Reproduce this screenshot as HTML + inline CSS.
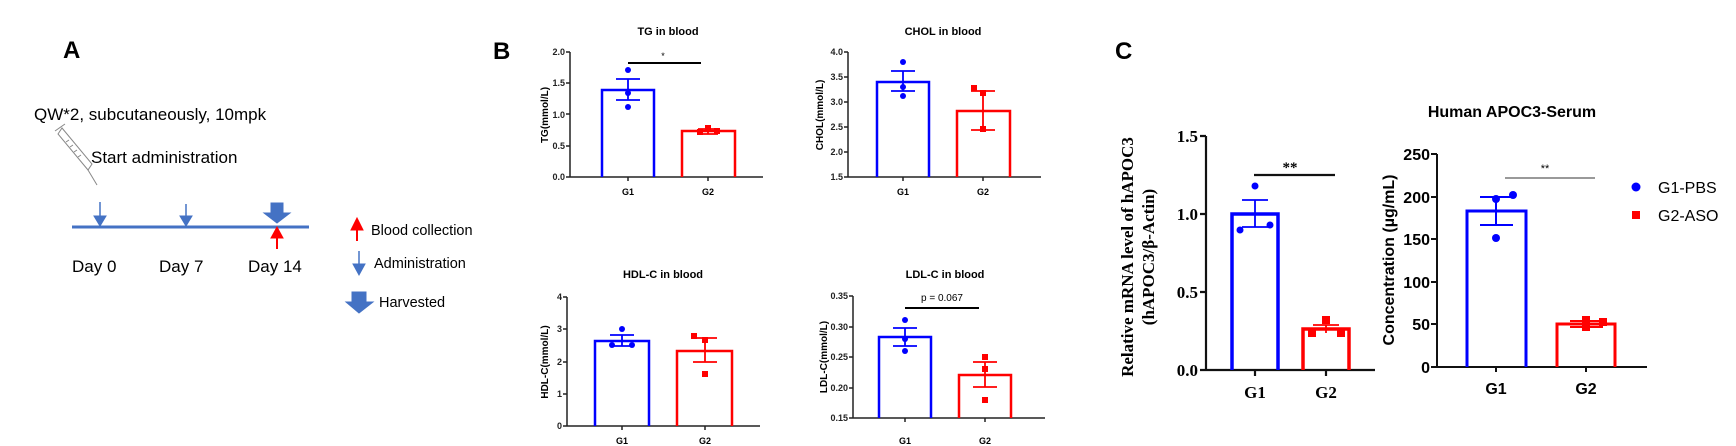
<!DOCTYPE html>
<html><head><meta charset="utf-8"><style>
html,body{margin:0;padding:0;background:#fff;}
svg{display:block;}
text{font-family:"Liberation Sans",Arial,sans-serif;}
.b{font-weight:bold;}
.s text, text.s{font-family:"Liberation Serif","Times New Roman",serif;font-weight:bold;}
</style></head><body>
<svg width="1736" height="446" viewBox="0 0 1736 446" xmlns="http://www.w3.org/2000/svg">
<rect width="1736" height="446" fill="#fff"/>
<!-- Panel A -->
<text x="63" y="58" font-size="24" class="b">A</text>
<text x="34" y="120" font-size="17">QW*2, subcutaneously, 10mpk</text>
<text x="91" y="163" font-size="17">Start administration</text>
<g stroke="#888" stroke-width="1" fill="none">
<path d="M58 134 L62 128 L92 164 L88 170 Z"/><path d="M55 131 L65 124"/><path d="M88 170 L97 185"/><path d="M66 142l3 -2M70 147l3 -2M74 152l3 -2M78 157l3 -2"/>
</g>
<line x1="72" y1="227" x2="309" y2="227" stroke="#4472C4" stroke-width="3"/>
<g fill="#4472C4" stroke="#4472C4">
<line x1="100" y1="202" x2="100" y2="218" stroke-width="1.5"/><polygon points="94,216 106,216 100,226"/>
<line x1="186" y1="204" x2="186" y2="218" stroke-width="1.5"/><polygon points="180,216 192,216 186,226"/>
<polygon points="271,203 283,203 283,213 290,213 277,223 264,213 271,213"/>
<line x1="359" y1="251" x2="359" y2="266" stroke-width="1.5"/><polygon points="353,264 365,264 359,275"/>
<polygon points="352,292 366,292 366,302 373,302 359,313 346,302 352,302"/>
</g>
<g fill="#f00" stroke="#f00">
<line x1="277" y1="249" x2="277" y2="236" stroke-width="2"/><polygon points="271,238 283,238 277,227"/>
<line x1="357" y1="241" x2="357" y2="228" stroke-width="2"/><polygon points="351,230 363,230 357,218"/>
</g>
<text x="72" y="272" font-size="17">Day 0</text>
<text x="159" y="272" font-size="17">Day 7</text>
<text x="248" y="272" font-size="17">Day 14</text>
<text x="371" y="235" font-size="14.5">Blood collection</text>
<text x="374" y="268" font-size="14.5">Administration</text>
<text x="379" y="307" font-size="14.5">Harvested</text>

<!-- Panel B -->
<text x="493" y="59" font-size="24" class="b">B</text>
<g font-size="9" class="b" text-anchor="end" fill="#222">
<text x="565" y="55">2.0</text><text x="565" y="86">1.5</text><text x="565" y="118">1.0</text><text x="565" y="149">0.5</text><text x="565" y="180">0.0</text>
<text x="843" y="55">4.0</text><text x="843" y="80">3.5</text><text x="843" y="105">3.0</text><text x="843" y="130">2.5</text><text x="843" y="155">2.0</text><text x="843" y="180">1.5</text>
<text x="562" y="300">4</text><text x="562" y="332">3</text><text x="562" y="365">2</text><text x="562" y="397">1</text><text x="562" y="429">0</text>
<text x="848" y="299">0.35</text><text x="848" y="330">0.30</text><text x="848" y="360">0.25</text><text x="848" y="391">0.20</text><text x="848" y="421">0.15</text>
</g>
<g font-size="11" class="b" text-anchor="middle">
<text x="668" y="35">TG in blood</text><text x="943" y="35">CHOL in blood</text>
<text x="663" y="278">HDL-C in blood</text><text x="945" y="278">LDL-C in blood</text>
</g>
<g font-size="9" class="b" text-anchor="middle">
<text x="628" y="195">G1</text><text x="708" y="195">G2</text>
<text x="903" y="195">G1</text><text x="983" y="195">G2</text>
<text x="622" y="444">G1</text><text x="705" y="444">G2</text>
<text x="905" y="444">G1</text><text x="985" y="444">G2</text>
</g>
<g font-size="10" class="b" text-anchor="middle">
<text transform="translate(548,115) rotate(-90)">TG(mmol/L)</text>
<text transform="translate(823,115) rotate(-90)">CHOL(mmol/L)</text>
<text transform="translate(548,362) rotate(-90)">HDL-C(mmol/L)</text>
<text transform="translate(827,357) rotate(-90)">LDL-C(mmol/L)</text>
</g>
<g stroke="#222" stroke-width="1.5" fill="none">
<path d="M570 52V177H763M566 52h4M566 83h4M566 114h4M566 146h4M566 177h4M628 177v4M708 177v4"/>
<path d="M848 52V177H1041M844 52h4M844 77h4M844 102h4M844 127h4M844 152h4M844 177h4M903 177v4M983 177v4"/>
<path d="M567 297V426H760M563 297h4M563 329h4M563 362h4M563 394h4M563 426h4M622 426v4M705 426v4"/>
<path d="M853 296V418H1045M849 296h4M849 327h4M849 357h4M849 388h4M849 418h4M905 418v4M985 418v4"/>
</g>
<g stroke="#000" stroke-width="2"><line x1="628" y1="63" x2="701" y2="63"/><line x1="905" y1="308" x2="979" y2="308"/></g>
<text x="663" y="59" font-size="9" text-anchor="middle">*</text>
<text x="942" y="301" font-size="10" text-anchor="middle">p = 0.067</text>
<g fill="none" stroke-width="2.5">
<path stroke="#00f" d="M602 177V90H654V177"/><path stroke="#f00" d="M682 177V131H735V177"/>
<path stroke="#00f" d="M877 177V82H929V177"/><path stroke="#f00" d="M957 177V111H1010V177"/>
<path stroke="#00f" d="M595 426V341H649V426"/><path stroke="#f00" d="M677 426V351H732V426"/>
<path stroke="#00f" d="M879 418V337H931V418"/><path stroke="#f00" d="M959 418V375H1011V418"/>
</g>
<g stroke-width="1.8" fill="none">
<path stroke="#00f" d="M628 79V100M616 79h24M616 100h24"/>
<path stroke="#f00" d="M708 129V134M698 129h20M698 134h20"/>
<path stroke="#00f" d="M903 71V91M891 71h24M891 91h24"/>
<path stroke="#f00" d="M983 91V130M971 91h24M971 130h24"/>
<path stroke="#00f" d="M622 335V346M610 335h24M610 346h24"/>
<path stroke="#f00" d="M705 338V362M693 338h24M693 362h24"/>
<path stroke="#00f" d="M905 328V346M893 328h24M893 346h24"/>
<path stroke="#f00" d="M985 362V387M973 362h24M973 387h24"/>
</g>
<g fill="#00f">
<circle cx="628" cy="70" r="3"/><circle cx="628" cy="93" r="3"/><circle cx="628" cy="107" r="3"/>
<circle cx="903" cy="62" r="3"/><circle cx="903" cy="87" r="3"/><circle cx="903" cy="96" r="3"/>
<circle cx="622" cy="329" r="3"/><circle cx="612" cy="345" r="3"/><circle cx="632" cy="345" r="3"/>
<circle cx="905" cy="320" r="3"/><circle cx="905" cy="339" r="3"/><circle cx="905" cy="351" r="3"/>
</g>
<g fill="#f00">
<rect x="697" y="129" width="6" height="6"/><rect x="705" y="125" width="6" height="6"/><rect x="714" y="128" width="6" height="6"/>
<rect x="971" y="85" width="6" height="6"/><rect x="980" y="90" width="6" height="6"/><rect x="980" y="126" width="6" height="6"/>
<rect x="691" y="333" width="6" height="6"/><rect x="702" y="337" width="6" height="6"/><rect x="702" y="371" width="6" height="6"/>
<rect x="982" y="354" width="6" height="6"/><rect x="982" y="366" width="6" height="6"/><rect x="982" y="397" width="6" height="6"/>
</g>

<!-- Panel C -->
<text x="1115" y="59" font-size="24" class="b">C</text>
<g font-size="17" class="s" text-anchor="end">
<text x="1198" y="142">1.5</text><text x="1198" y="220">1.0</text><text x="1198" y="298">0.5</text><text x="1198" y="376">0.0</text>
</g>
<g font-size="17" class="s" text-anchor="middle">
<text x="1255" y="398">G1</text><text x="1326" y="398">G2</text>
<text transform="translate(1133,257) rotate(-90)">Relative mRNA level of hAPOC3</text>
<text transform="translate(1154,257) rotate(-90)">(hAPOC3/β-Actin)</text>
<text x="1290" y="172" font-size="15">**</text>
</g>
<g stroke="#111" stroke-width="2.2" fill="none">
<path d="M1206 136V370H1375M1200 136h6M1200 214h6M1200 292h6M1200 370h6M1255 370v6M1326 370v6"/>
<path d="M1254 175H1335"/>
</g>
<path fill="none" stroke="#00f" stroke-width="3.5" d="M1232 370V214H1278V370"/>
<path fill="none" stroke="#f00" stroke-width="3.5" d="M1303 370V329H1349V370"/>
<path fill="none" stroke="#00f" stroke-width="1.8" d="M1255 200V227M1242 200h26M1242 227h26"/>
<path fill="none" stroke="#f00" stroke-width="1.8" d="M1326 325V333M1313 325h26"/>
<g fill="#00f"><circle cx="1255" cy="186" r="3.5"/><circle cx="1240" cy="230" r="3.5"/><circle cx="1270" cy="225" r="3.5"/></g>
<g fill="#f00"><rect x="1322" y="316" width="8" height="8"/><rect x="1308" y="329" width="8" height="8"/><rect x="1337" y="329" width="8" height="8"/></g>

<text x="1512" y="117" font-size="16" class="b" text-anchor="middle">Human APOC3-Serum</text>
<g font-size="16" class="b" text-anchor="end">
<text x="1430" y="160">250</text><text x="1430" y="203">200</text><text x="1430" y="245">150</text><text x="1430" y="288">100</text><text x="1430" y="330">50</text><text x="1430" y="373">0</text>
</g>
<g font-size="16" class="b" text-anchor="middle">
<text x="1496" y="394">G1</text><text x="1586" y="394">G2</text>
<text transform="translate(1394,260) rotate(-90)">Concentration (µg/mL)</text>
</g>
<text x="1545" y="172" font-size="11" text-anchor="middle">**</text>
<g stroke="#111" stroke-width="2" fill="none">
<path d="M1437 154V367H1647M1431 154h6M1431 197h6M1431 239h6M1431 282h6M1431 324h6M1431 367h6M1496 367v5M1586 367v5"/>
</g>
<line x1="1505" y1="178" x2="1595" y2="178" stroke="#333" stroke-width="1"/>
<path fill="none" stroke="#00f" stroke-width="3" d="M1467 367V211H1526V367"/>
<path fill="none" stroke="#f00" stroke-width="3" d="M1557 367V324H1615V367"/>
<path fill="none" stroke="#00f" stroke-width="2" d="M1496 197V225M1480 197h33M1480 225h33"/>
<path fill="none" stroke="#f00" stroke-width="2" d="M1586 321V327M1570 321h33M1570 327h33"/>
<g fill="#00f"><circle cx="1513" cy="195" r="4"/><circle cx="1496" cy="199" r="4"/><circle cx="1496" cy="238" r="4"/></g>
<g fill="#f00"><rect x="1582" y="316" width="8" height="8"/><rect x="1582" y="323" width="8" height="8"/><rect x="1599" y="318" width="8" height="8"/></g>
<circle cx="1636" cy="187" r="4.5" fill="#00f"/>
<rect x="1632" y="211" width="8" height="8" fill="#f00"/>
<text x="1658" y="193" font-size="16">G1-PBS</text>
<text x="1658" y="221" font-size="16">G2-ASO</text>
</svg>
</body></html>
